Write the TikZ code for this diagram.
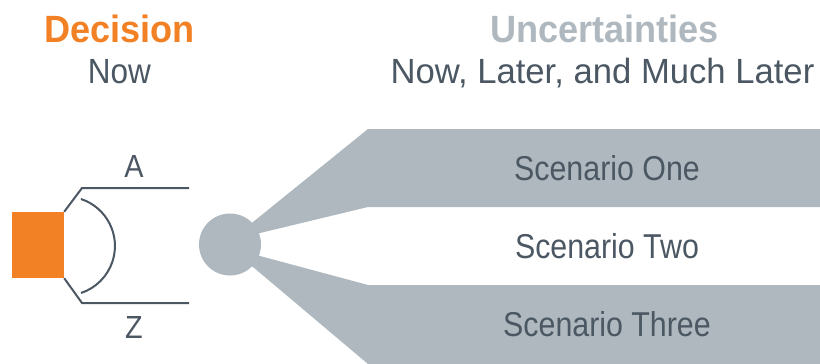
\documentclass[tikz,border=0pt]{standalone}
\usepackage{fontspec}
\setmainfont{Liberation Sans}
\newfontfamily\scenfont[FakeStretch=0.88]{Liberation Sans}
\newfontfamily\nowfont[FakeStretch=0.90]{Liberation Sans}
\newfontfamily\subfont[FakeStretch=0.99]{Liberation Sans}
\newfontfamily\headfont[FakeStretch=0.95]{Liberation Sans}
\definecolor{dorange}{HTML}{F28125}
\definecolor{ugray}{HTML}{AEB8BE}
\definecolor{slate}{HTML}{4B5763}
\tikzset{
  scen/.style={anchor=base, inner sep=0, text=slate, font=\scenfont\fontsize{34.5}{40}\selectfont},
  head/.style={anchor=base, inner sep=0, font=\headfont\bfseries\fontsize{38}{44}\selectfont},
  optlabel/.style={anchor=base, inner sep=0, text=slate, font=\nowfont\fontsize{32}{38}\selectfont},
  bracket/.style={draw=slate, line width=2pt},
  band/.style={fill=ugray},
}
\begin{document}
\begin{tikzpicture}[x=1pt,y=-1pt]
\useasboundingbox (0,0) rectangle (820,364);
% bands
\fill[band] (230,244.5) -- (253,222) -- (368,129) -- (820,129) -- (820,207) -- (368,207) -- (260,233) -- cycle;
\fill[band] (230,244.5) -- (253,267) -- (368,364) -- (820,364) -- (820,285) -- (368,285) -- (260,256) -- cycle;
\node[circle, fill=ugray, minimum size=62pt, inner sep=0] (chance) at (230,244.5) {};
% decision
\node[fill=dorange, minimum width=52pt, minimum height=66pt, inner sep=0] (dec) at (38,245) {};
\coordinate (tA) at (189,188);
\coordinate (tZ) at (189,303);
\draw[bracket] (dec.north east) -- (82,188) -- (tA);
\draw[bracket] (dec.south east) -- (82,303) -- (tZ);
\draw[bracket] (81,199) arc[start angle=-71.7, end angle=71.7, radius=49.5];
\node[optlabel] (la) at (134,177) {A};
\node[optlabel] (lz) at (134,338) {Z};
% headings
\node[head, text=dorange] (hdec) at (119.5,42) {Decision};
\node[anchor=base, inner sep=0, text=slate, font=\nowfont\fontsize{35}{40}\selectfont] (hnow) at (119.5,83) {Now};
\node[head, text=ugray] (hunc) at (604.5,42) {Uncertainties};
\node[anchor=base, inner sep=0, text=slate, font=\subfont\fontsize{35}{40}\selectfont] (hsub) at (602.5,83) {Now, Later, and Much Later};
% scenarios
\node[scen] (s1) at (607,180) {Scenario One};
\node[scen] (s2) at (607,258) {Scenario Two};
\node[scen] (s3) at (607,336) {Scenario Three};
\end{tikzpicture}
\end{document}
